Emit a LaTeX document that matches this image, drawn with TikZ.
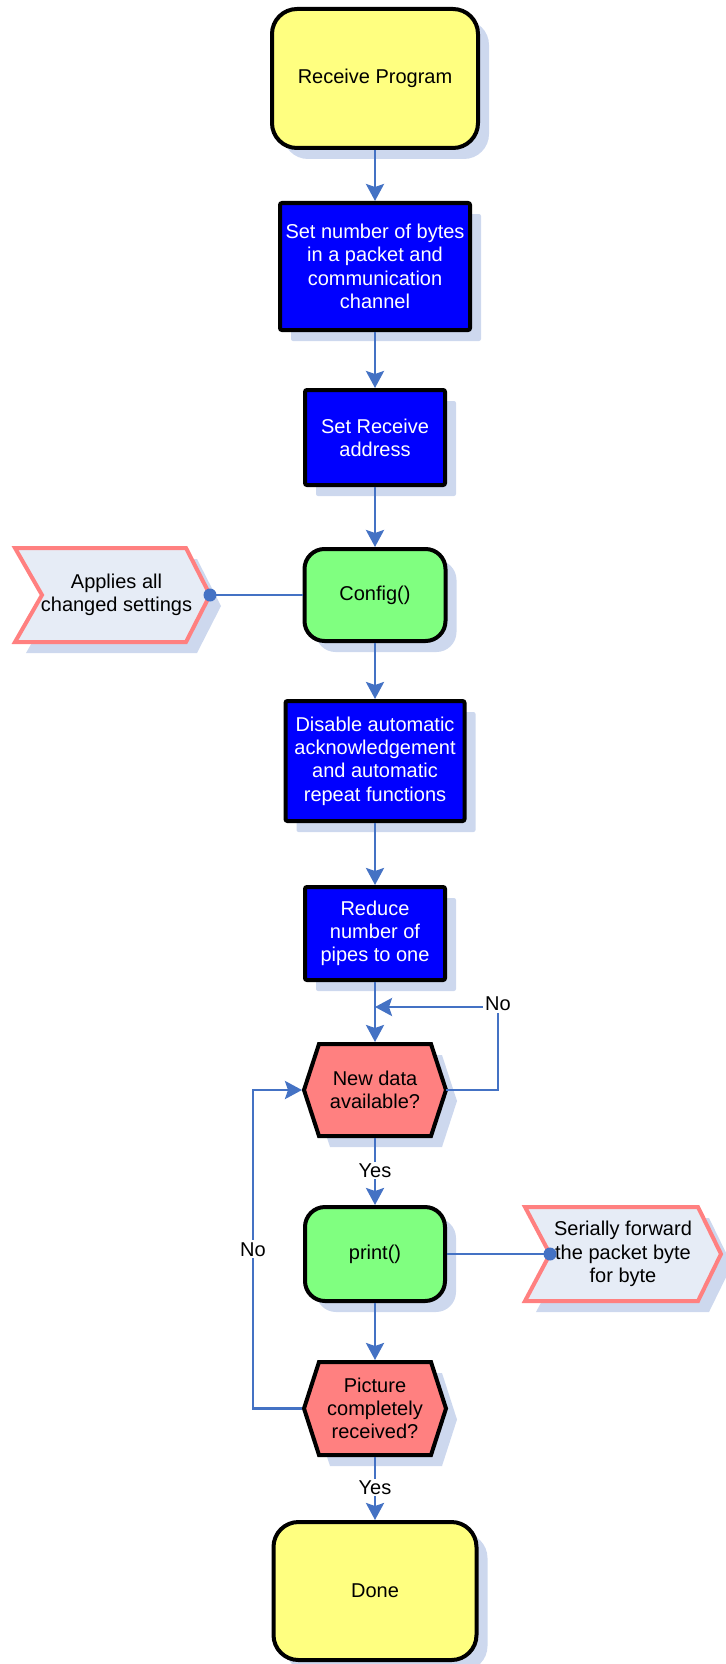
\documentclass[tikz,border=0pt]{standalone}
\usepackage{fontspec}
\setmainfont{Liberation Sans}
\usetikzlibrary{arrows.meta,shadows,backgrounds}
\definecolor{connc}{RGB}{68,114,196}
\definecolor{termfill}{RGB}{255,255,128}
\definecolor{procfill}{RGB}{0,0,255}
\definecolor{funcfill}{RGB}{128,255,128}
\definecolor{decfill}{RGB}{255,128,128}
\definecolor{flagfill}{RGB}{230,236,246}
\definecolor{flagline}{RGB}{255,128,128}
\definecolor{shadowc}{RGB}{205,216,238}
\tikzset{
  shad/.style={drop shadow={shadow xshift=11pt, shadow yshift=-11pt, fill=shadowc, opacity=1}},
  term/.style={draw=black, line width=4pt, fill=termfill, rounded corners=25pt, inner sep=0pt, align=center, shad},
  proc/.style={draw=black, line width=4pt, fill=procfill, text=white, rounded corners=2pt, inner sep=0pt, align=center, shad},
  func/.style={draw=black, line width=4pt, fill=funcfill, rounded corners=20pt, inner sep=0pt, align=center, shad},
  decbox/.style={rectangle, inner sep=0pt, outer sep=0pt, align=center},
  decshape/.style={draw=black, line width=4pt, fill=decfill, line join=miter, shad},
  flagbox/.style={rectangle, inner sep=0pt, outer sep=0pt, align=center, minimum height=94pt},
  flagshape/.style={draw=flagline, line width=4pt, fill=flagfill, line join=miter, shad},
  connline/.style={draw=connc, line width=2.8pt},
  arr/.style={connline, -{Stealth[length=17pt,width=18pt,inset=3pt]}},
  lbl/.style={fill=white, inner sep=2pt, text=black},
}
\begin{document}
\begin{tikzpicture}[x=1pt, y=-1pt, font=\fontsize{20pt}{23.3pt}\selectfont]
\useasboundingbox (0,0) rectangle (725,1664);

% main column
\node[term, minimum width=206pt, minimum height=139pt] (recv) at (375,78.5) {Receive Program};
\node[proc, minimum width=190pt, minimum height=127pt] (b1) at (375,266.5) {Set number of bytes\\in a packet and\\communication\\channel};
\node[proc, minimum width=140pt, minimum height=95pt] (b2) at (375,437.5) {Set Receive\\address};
\node[func, minimum width=141pt, minimum height=92pt] (cfg) at (375,595) {Config()};
\node[proc, minimum width=179pt, minimum height=120pt] (b3) at (375,761) {Disable automatic\\acknowledgement\\and automatic\\repeat functions};
\node[proc, minimum width=140pt, minimum height=93pt] (b4) at (375,933.5) {Reduce\\number of\\pipes to one};
\node[decbox, minimum width=142pt, minimum height=92pt] (h1) at (375,1090) {New data\\available?};
\node[func, minimum width=140pt, minimum height=94pt] (prt) at (375,1254) {print()};
\node[decbox, minimum width=142pt, minimum height=93pt] (h2) at (375,1408.5) {Picture\\completely\\received?};
\node[term, minimum width=203pt, minimum height=138pt] (done) at (375,1591) {Done};

% side flags
\node[flagbox, minimum width=195pt] (flagL) at (112.5,595) {\hspace*{8pt}Applies all\\\hspace*{8pt}changed settings};
\node[flagbox, minimum width=196pt] (flagR) at (623,1254) {Serially forward\\the packet byte\\for byte};

\begin{scope}[on background layer]
  \draw[decshape] (h1.west) -- ([xshift=15pt]h1.north west) -- ([xshift=-15pt]h1.north east) -- (h1.east) -- ([xshift=-15pt]h1.south east) -- ([xshift=15pt]h1.south west) -- cycle;
  \draw[decshape] (h2.west) -- ([xshift=15pt]h2.north west) -- ([xshift=-15pt]h2.north east) -- (h2.east) -- ([xshift=-15pt]h2.south east) -- ([xshift=15pt]h2.south west) -- cycle;
  \draw[flagshape] (flagL.north west) -- ([xshift=-24pt]flagL.north east) -- (flagL.east) -- ([xshift=-24pt]flagL.south east) -- (flagL.south west) -- ([xshift=27pt]flagL.west) -- cycle;
  \draw[flagshape] (flagR.north west) -- ([xshift=-23pt]flagR.north east) -- (flagR.east) -- ([xshift=-23pt]flagR.south east) -- (flagR.south west) -- ([xshift=25pt]flagR.west) -- cycle;
\end{scope}

\coordinate (j1) at (375,1007);
\coordinate (notchR) at ([xshift=25pt]flagR.west);

% connectors
\draw[arr] (recv.south) -- (b1.north);
\draw[arr] (b1.south) -- (b2.north);
\draw[arr] (b2.south) -- (cfg.north);
\draw[arr] (cfg.south) -- (b3.north);
\draw[arr] (b3.south) -- (b4.north);
\draw[arr, shorten >=2pt] (b4.south) -- (h1.north);
\draw[arr] (h1.east) -- ++(52,0) |- node[lbl, pos=0.5, yshift=3pt] {No} (j1);
\draw[arr, shorten <=2pt] (h1.south) -- node[lbl] {Yes} (prt.north);
\draw[arr, shorten >=2pt] (prt.south) -- (h2.north);
\draw[arr, shorten >=2pt, shorten <=2pt] (h2.west) -- ++(-51,0) |- node[lbl, pos=0.25] {No} (h1.west);
\draw[arr, shorten <=2pt] (h2.south) -- node[lbl] {Yes} (done.north);

\draw[connline] (cfg.west) -- (flagL.east);
\fill[connc] (flagL.east) circle[radius=6.5pt];
\draw[connline] (prt.east) -- (notchR);
\fill[connc] (notchR) circle[radius=6.5pt];
\end{tikzpicture}
\end{document}
